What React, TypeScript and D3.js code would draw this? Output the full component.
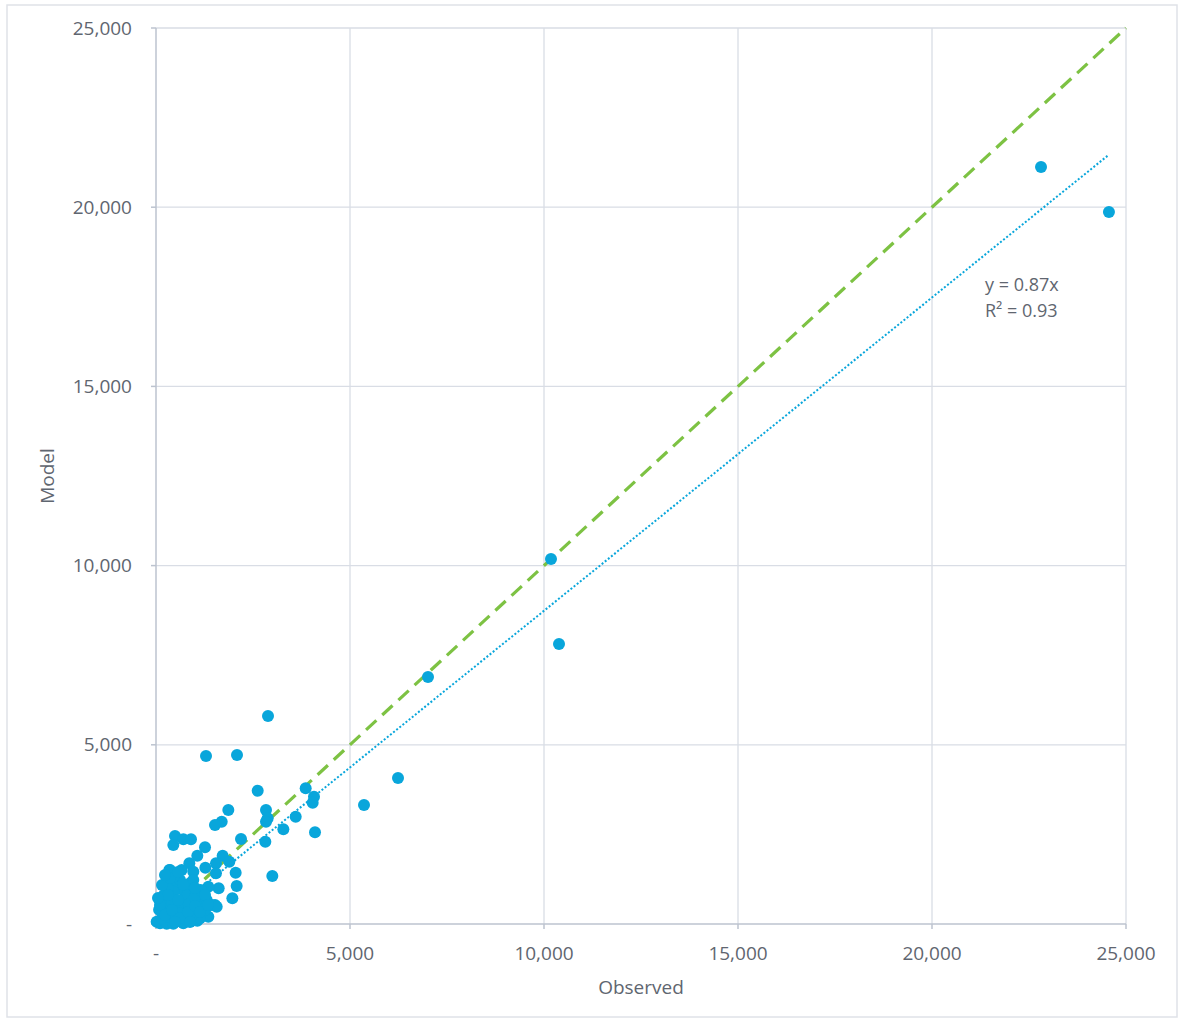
import * as d3 from "d3";

const observed = [
  22810, 24560, 10180, 10387, 7010, 6237, 5361, 2887, 1289, 2088,
  2621, 3858, 4072, 4038, 1864, 2835, 2878, 2835, 1693, 1521,
  3600, 3282, 4098, 2191, 2818, 2998, 490, 705, 902, 447,
  1263, 1065, 1718, 1890, 1546, 1272, 1546, 2053, 2079, 1615,
  1968, 343, 662, 859, 962, 1065, 1349, 1521,
  361, 276, 533, 704, 791, 961, 1134, 1306, 1435, 1564,
  1263, 1048, 876, 704, 533, 361, 189, 103, 17, 276,
  447, 704, 961, 1134, 619, 361, 189, 447, 791, 961,
  876, 619, 447, 1349, 1220, 961, 361,
  250, 400, 550, 650, 800, 300, 150, 500, 850, 1000,
  1150, 700, 450, 300, 200, 600, 900, 1100, 750, 350, 80, 120,
  103, 232, 412, 619, 825, 1005, 1134, 567, 309, 155,
  361, 1005, 1263, 52, 490, 876, 1340, 232, 567,
];
const model = [
  21120, 19866, 10184, 7813, 6892, 4074, 3320, 5804, 4688, 4715,
  3718, 3786, 3553, 3385, 3181, 3181, 2948, 2855, 2855, 2762,
  2994, 2642, 2558, 2371, 2297, 1339, 2455, 2363, 2363, 2204,
  2139, 1906, 1906, 1739, 1693, 1571, 1414, 1432, 1060, 995,
  717, 1507, 1507, 1693, 1460, 93, 205, 530,
  1135, 857, 1041, 949, 717, 857, 670, 670, 530, 483,
  391, 343, 298, 251, 204, 112, 204, 20, 64, 10,
  5, 20, 112, 159, 483, 483, 391, 670, 483, 530,
  1135, 1228, 1321, 1041, 902, 1228, 1507,
  300, 350, 450, 600, 800, 600, 150, 100, 550, 750,
  950, 1100, 900, 1000, 800, 300, 200, 400, 150, 200, 400, 600,
  530, 251, 391, 167, 335, 502, 335, 670, 809, 1088,
  1283, 1004, 809, 725, 56, 56, 530, 1367, 1451,
];
const ticks = [0, 5000, 10000, 15000, 20000, 25000];
const slope = 0.874;
const trendLabel = ["y = 0.87x", "R\u00b2 = 0.93"];

const points = observed.map((x, i) => ({ x, y: model[i] }));

export default function App() {
  const W = 1180, H = 1021;
  const left = 156, right = 1126, top = 28, bottom = 924;
  const x = d3.scaleLinear().domain([0, 25000]).range([left, right]);
  const y = d3.scaleLinear().domain([0, 25000]).range([bottom, top]);
  const fmt = (v: number) => (v === 0 ? "-" : d3.format(",")(v));
  const font = "'Open Sans', sans-serif";
  const textColor = "#5f6670";
  const blue = "#09a6db";
  const green = "#7dc243";
  const maxX = d3.max(observed) as number;
  const minX = d3.min(observed) as number;
  const line = d3.line<[number, number]>().x(d => x(d[0])).y(d => y(d[1]));

  return (
    <svg width={W} height={H} style={{ position: "absolute", left: 0, top: 0, background: "#fff" }}
      fontFamily={font}>
      <rect x={7} y={5} width={1170} height={1012} fill="#fff" stroke="#dfe2e8" strokeWidth={1.5} />
      {ticks.filter(t => t > 0).map(t => (
        <g key={"g" + t}>
          <line x1={x(t)} x2={x(t)} y1={top} y2={bottom} stroke="#d9dde5" strokeWidth={1.3} />
          <line x1={left} x2={right} y1={y(t)} y2={y(t)} stroke="#d9dde5" strokeWidth={1.3} />
        </g>
      ))}
      <line x1={left} x2={left} y1={top} y2={bottom + 5} stroke="#bcc3cf" strokeWidth={1.5} />
      <line x1={left - 5} x2={right} y1={bottom} y2={bottom} stroke="#bcc3cf" strokeWidth={1.5} />
      {ticks.map(t => (
        <g key={"t" + t}>
          <line x1={left - 5} x2={left} y1={y(t)} y2={y(t)} stroke="#bcc3cf" strokeWidth={1.5} />
          <line x1={x(t)} x2={x(t)} y1={bottom} y2={bottom + 5} stroke="#bcc3cf" strokeWidth={1.5} />
          <text x={132} y={y(t)} dy="0.35em" textAnchor="end" fontSize={19} fill={textColor}>{fmt(t)}</text>
          <text x={x(t)} y={953} dy="0.35em" textAnchor="middle" fontSize={19} fill={textColor}>{fmt(t)}</text>
        </g>
      ))}
      <text x={641} y={987} dy="0.35em" textAnchor="middle" fontSize={19} fill={textColor}>Observed</text>
      <text transform={`translate(47,${(top + bottom) / 2}) rotate(-90)`} dy="0.35em" textAnchor="middle"
        fontSize={19} fill={textColor}>Model</text>
      <path d={line([[0, 0], [25000, 25000]]) as string} stroke={green} strokeWidth={3.2}
        strokeDasharray="14 8" fill="none" />
      <path d={line([[minX, minX * slope], [maxX, maxX * slope]]) as string} stroke={blue} strokeWidth={2}
        strokeDasharray="2 2" fill="none" />
      {points.map((p, i) => (
        <circle key={i} cx={x(p.x)} cy={y(p.y)} r={6} fill={blue} />
      ))}
      {trendLabel.map((s, i) => (
        <text key={s} x={985} y={285 + i * 26} dy="0.35em" fontSize={18} fill={textColor}>{s}</text>
      ))}
    </svg>
  );
}
